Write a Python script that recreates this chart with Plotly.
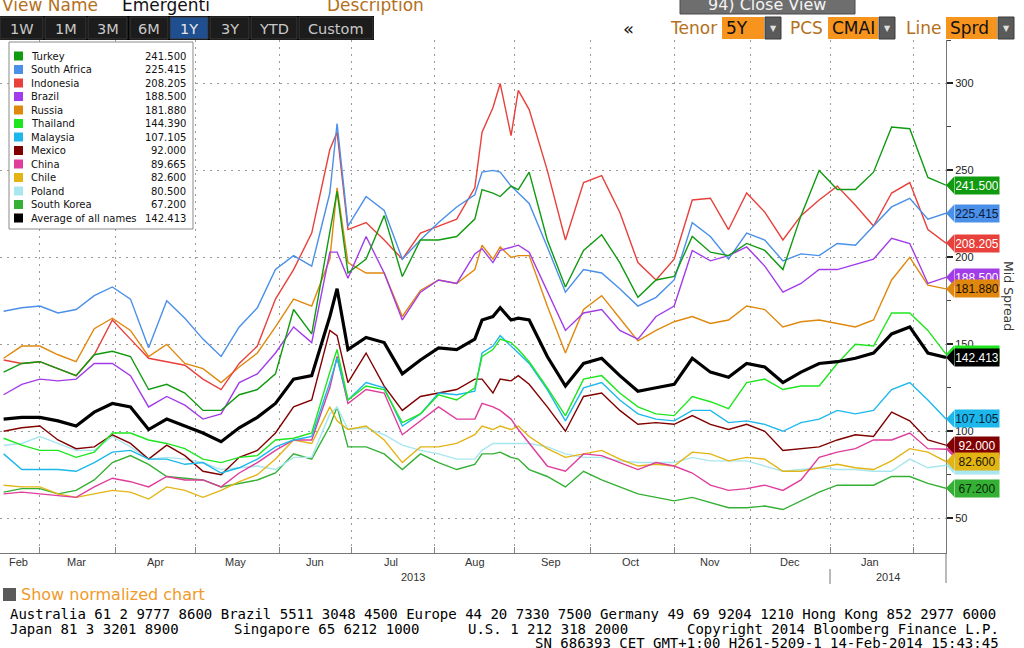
import pandas as pd
import plotly.graph_objects as go

# ---------------- data ----------------
dates = [
    "2013-02-15", "2013-02-22", "2013-03-01", "2013-03-08", "2013-03-15", "2013-03-22", "2013-03-29",
    "2013-04-05", "2013-04-12", "2013-04-19", "2013-04-26", "2013-05-03", "2013-05-10", "2013-05-17",
    "2013-05-24", "2013-05-31", "2013-06-07", "2013-06-14", "2013-06-21", "2013-06-25", "2013-06-28",
    "2013-07-05", "2013-07-12", "2013-07-19", "2013-07-26", "2013-08-02", "2013-08-09", "2013-08-16",
    "2013-08-20", "2013-08-23", "2013-08-27", "2013-08-30", "2013-09-03", "2013-09-06", "2013-09-13",
    "2013-09-20", "2013-09-27", "2013-10-04", "2013-10-11", "2013-10-18", "2013-10-25", "2013-11-01",
    "2013-11-08", "2013-11-15", "2013-11-22", "2013-11-29", "2013-12-06", "2013-12-13", "2013-12-20",
    "2013-12-27", "2014-01-03", "2014-01-10", "2014-01-17", "2014-01-24", "2014-01-31", "2014-02-07",
    "2014-02-14",
]

turkey = [134, 139, 140, 136, 132, 144, 146, 143, 124, 127, 122, 112, 112, 121, 124, 133, 170, 156, 214,
          238, 191, 199, 224, 189, 210, 210, 212, 222, 239, 237, 235, 241, 239, 249, 210, 183, 204, 213,
          197, 177, 187, 189, 212, 203, 201, 208, 204, 193, 224, 250, 239, 239, 249, 275, 274, 246, 241.5]
south_africa = [169, 171, 172, 168, 170, 178, 183, 176, 148, 175, 165, 153, 143, 160, 171, 193, 201, 195, 237,
                277, 218, 235, 227, 199, 210, 220, 229, 236, 249, 250, 249, 241, 237, 231, 206, 180, 193, 191,
                182, 172, 177, 187, 220, 212, 199, 214, 210, 198, 202, 201, 208, 207, 218, 229, 234, 222, 225.415]
indonesia = [141, 139, 140, 136, 132, 144, 164, 153, 142, 140, 138, 130, 124, 139, 149, 176, 193, 214, 262,
             272, 216, 220, 210, 199, 214, 218, 222, 240, 272, 286, 300, 270, 296, 285, 250, 210, 243, 247,
             226, 197, 187, 199, 233, 234, 216, 237, 226, 210, 224, 233, 241, 230, 218, 237, 243, 216, 208.205]
brazil = [121, 127, 130, 129, 130, 139, 139, 132, 114, 120, 115, 107, 110, 128, 133, 145, 160, 151, 203,
          203, 188, 212, 191, 164, 180, 187, 185, 202, 205, 197, 204, 206, 207, 203, 180, 158, 168, 170,
          158, 153, 166, 172, 204, 198, 201, 206, 195, 180, 185, 193, 193, 196, 199, 211, 208, 185, 188.5]
russia = [142, 149, 149, 144, 140, 159, 165, 158, 143, 150, 139, 136, 128, 137, 145, 160, 176, 172, 199,
          240, 197, 191, 191, 166, 181, 187, 185, 193, 207, 199, 206, 200, 201, 201, 172, 145, 170, 178,
          165, 152, 158, 163, 166, 162, 164, 172, 170, 160, 163, 164, 162, 160, 164, 187, 200, 184, 181.88]
thailand = [96, 92, 89, 89, 85, 88, 99, 99, 95, 93, 90, 84, 82, 85, 86, 95, 96, 99, 134,
            147, 118, 126, 124, 105, 110, 121, 118, 125, 143, 147, 153, 151, 147, 140, 125, 109, 130, 132,
            122, 114, 110, 109, 120, 117, 113, 128, 130, 124, 126, 126, 139, 150, 149, 168, 168, 158, 144.39]
malaysia = [87, 78, 78, 78, 77, 82, 88, 89, 84, 84, 81, 82, 76, 79, 84, 91, 95, 97, 128,
            142, 118, 128, 125, 103, 110, 122, 121, 123, 145, 149, 155, 149, 145, 139, 124, 106, 125, 128,
            118, 110, 107, 106, 112, 112, 105, 106, 104, 100, 105, 107, 112, 110, 112, 124, 128, 118, 107.105]
mexico = [100, 102, 103, 95, 90, 91, 98, 93, 84, 92, 86, 77, 75, 85, 89, 99, 114, 118, 158,
          155, 128, 145, 126, 112, 120, 122, 124, 130, 130, 122, 130, 129, 132, 127, 114, 100, 120, 122,
          112, 104, 105, 104, 109, 104, 101, 104, 100, 89, 90, 91, 95, 98, 97, 111, 106, 95, 92.0]
china = [64, 65, 64, 63, 62, 68, 73, 71, 68, 74, 72, 72, 68, 76, 82, 89, 95, 95, 125,
         143, 116, 124, 122, 98, 106, 114, 107, 107, 116, 114, 112, 107, 101, 93, 80, 77, 87, 86,
         82, 78, 82, 80, 76, 69, 66, 67, 69, 66, 72, 85, 88, 90, 95, 95, 99, 90, 89.665]
chile = [69, 68, 68, 64, 62, 64, 66, 65, 61, 68, 66, 62, 66, 71, 75, 84, 95, 93, 114,
         106, 101, 103, 95, 82, 91, 91, 93, 98, 103, 101, 103, 101, 103, 97, 90, 85, 87, 89,
         84, 80, 81, 80, 88, 87, 83, 85, 84, 77, 77, 79, 81, 79, 78, 83, 90, 88, 82.6]
poland = [92, 93, 97, 93, 89, 89, 97, 91, 84, 85, 84, 82, 78, 79, 80, 78, 85, 85, 110,
          114, 101, 102, 98, 92, 89, 87, 84, 84, 89, 93, 93, 93, 93, 93, 91, 87, 85, 85,
          83, 82, 82, 82, 85, 83, 83, 83, 80, 77, 78, 79, 78, 78, 77, 77, 84, 79, 80.5]
south_korea = [65, 67, 67, 64, 66, 72, 82, 86, 81, 74, 73, 72, 68, 70, 72, 76, 87, 84, 103,
               114, 91, 91, 87, 78, 87, 82, 78, 81, 87, 87, 88, 85, 84, 78, 74, 68, 77, 72,
               68, 64, 62, 60, 62, 59, 56, 56, 57, 55, 60, 65, 69, 69, 69, 74, 74, 70, 67.2]
average = [107, 108, 108, 106, 103, 111, 116, 114, 101, 107, 103, 99, 94, 102, 108, 116, 130, 132, 166,
           182, 147, 154, 151, 133, 141, 148, 147, 153, 164, 166, 171, 164, 165, 164, 143, 126, 139, 142,
           132, 123, 125, 127, 142, 134, 131, 139, 137, 128, 134, 139, 140, 142, 145, 156, 160, 145, 142.413]

names = ["Turkey", "South Africa", "Indonesia", "Brazil", "Russia", "Thailand", "Malaysia",
         "Mexico", "China", "Chile", "Poland", "South Korea", "Average of all names"]
values = [turkey, south_africa, indonesia, brazil, russia, thailand, malaysia,
          mexico, china, chile, poland, south_korea, average]

# ---------------- styles ----------------
colors = ["#109a10", "#4a8fe8", "#e8403a", "#a23ce8", "#e0880e", "#1ee61e", "#1cb8ec",
          "#800000", "#e03c9c", "#e2b414", "#a8e6f0", "#34b034", "#000000"]
tag_text = ["#ffffff", "#0a1a3a", "#ffffff", "#ffffff", "#1a1000", "#0a2a0a", "#06223a",
            "#ffffff", "#ffffff", "#1a1400", "#0a2a30", "#082808", "#ffffff"]
tags_under = ["Thailand", "China", "Poland"]
draw_order = ["South Korea", "Poland", "Chile", "China", "Mexico", "Malaysia", "Thailand",
              "Russia", "Brazil", "Indonesia", "South Africa", "Turkey", "Average of all names"]

W, H = 1024, 648
ML, MR, MT, MB = 0, 78, 40, 95
PW, PH = W - ML - MR, H - MT - MB
Y_RANGE = [30, 325]
X_START, X_END = "2013-02-14", "2014-02-14"


def px(x):
    return (x - ML) / PW


def py(y):
    return (H - MB - y) / PH


def vy(v):
    return (v - Y_RANGE[0]) / (Y_RANGE[1] - Y_RANGE[0])


fig = go.Figure()
idx = {n: i for i, n in enumerate(names)}
for n in draw_order:
    i = idx[n]
    fig.add_trace(go.Scatter(
        x=dates, y=values[i], mode="lines", name=n,
        line=dict(color=colors[i], width=3.2 if n.startswith("Average") else 1.4),
        hoverinfo="skip"))

shapes = []
ann = []

# ---- x axis helpers: month boundaries and labels ----
bdays = pd.bdate_range(X_START, X_END)
periods = bdays.to_period("M")
month_list = list(periods.unique())
month_starts = [bdays[periods == m][0] for m in month_list[1:]]
axis_font = dict(family="Liberation Sans Narrow, Liberation Sans, Arial", size=11, color="#333333")
for m in month_list[:-1]:
    days = bdays[periods == m]
    mid = days[len(days) // 2]
    ann.append(dict(x=mid, y=py(562), xref="x", yref="paper", text=mid.strftime("%b"),
                    showarrow=False, font=axis_font, yanchor="middle"))
years = bdays.year
for yv in sorted(set(years)):
    days = bdays[years == yv]
    mid = days[len(days) // 2]
    ann.append(dict(x=mid, y=py(577), xref="x", yref="paper", text=str(yv),
                    showarrow=False, font=axis_font, yanchor="middle"))
    if yv != years[0]:
        shapes.append(dict(type="line", xref="x", yref="paper", x0=days[0], x1=days[0],
                           y0=py(569), y1=py(584), line=dict(color="#777777", width=1)))

# right axis line extension below the plot
shapes.append(dict(type="line", xref="paper", yref="paper", x0=1, x1=1, y0=0, y1=py(583),
                   line=dict(color="#777777", width=1)))

# ---- legend box ----
shapes.append(dict(type="rect", xref="paper", yref="paper", x0=px(9), x1=px(193), y0=py(229), y1=py(42),
                   fillcolor="white", line=dict(color="#8a8a8a", width=1), layer="above"))
leg_font = dict(family="DejaVu Sans", size=10, color="#111111")
for i, n in enumerate(names):
    yc = 56 + i * 13.5
    shapes.append(dict(type="rect", xref="paper", yref="paper", x0=px(14), x1=px(23),
                       y0=py(yc + 4.5), y1=py(yc - 4.5), fillcolor=colors[i], line=dict(width=0), layer="above"))
    ann.append(dict(x=px(29), y=py(yc), xref="paper", yref="paper", text=n, showarrow=False,
                    xanchor="left", yanchor="middle", font=leg_font))
    ann.append(dict(x=px(188), y=py(yc), xref="paper", yref="paper", text=f"{values[i][-1]:.3f}",
                    showarrow=False, xanchor="right", yanchor="middle", font=leg_font))

# ---- value tags on the right ----
half = 8.5 / PH
tip, base = px(946), px(954)
tag_order = [n for n in names if n in tags_under] + [n for n in names if n not in tags_under]
for n in tag_order:
    i = idx[n]
    v = values[i][-1]
    yy = vy(v)
    shapes.append(dict(type="path", xref="paper", yref="paper",
                       path=f"M {tip},{yy} L {base},{yy + half} L {base},{yy - half} Z",
                       fillcolor=colors[i], line=dict(width=0)))
    ann.append(dict(x=base, y=yy, xref="paper", yref="paper", text=f"{v:.3f}", showarrow=False,
                    xanchor="left", yanchor="middle", bgcolor=colors[i], borderpad=1, width=42, height=15,
                    font=dict(family="Liberation Sans", size=12, color=tag_text[i])))

ann.append(dict(x=px(1009), y=py(296), xref="paper", yref="paper", text="Mid Spread", textangle=90,
                xanchor="center", yanchor="middle",
                showarrow=False, font=dict(family="DejaVu Sans", size=12.5, color="#333333")))

# ---- top bar ----
brown = "#b4701c"
top_font = dict(family="DejaVu Sans", size=17, color=brown)
ann.append(dict(x=px(0), y=py(5), xref="paper", yref="paper", text="View Name", showarrow=False,
                xanchor="left", yanchor="middle", font=top_font))
ann.append(dict(x=px(120), y=py(5), xref="paper", yref="paper", text="Emergenti", showarrow=False,
                xanchor="left", yanchor="middle", font=dict(family="DejaVu Sans", size=17, color="#111111")))
ann.append(dict(x=px(325), y=py(5), xref="paper", yref="paper", text="Description", showarrow=False,
                xanchor="left", yanchor="middle", font=top_font))

shapes.append(dict(type="rect", xref="paper", yref="paper", x0=px(0), x1=px(374), y0=py(40), y1=py(16),
                   fillcolor="#050505", line=dict(width=0)))
buttons = [("1W", 0, 43), ("1M", 45, 86), ("3M", 88, 127), ("6M", 130, 168), ("1Y", 170, 208),
           ("3Y", 210, 249), ("YTD", 251, 297), ("Custom", 299, 373)]
for label, a, b in buttons:
    sel = label == "1Y"
    shapes.append(dict(type="rect", xref="paper", yref="paper", x0=px(a), x1=px(b), y0=py(39), y1=py(17),
                       fillcolor="#1f4f8e" if sel else "#1c1c1c", line=dict(color="#3a3a3a", width=1)))
    ann.append(dict(x=px((a + b) / 2), y=py(28.5), xref="paper", yref="paper", text=label, showarrow=False,
                    xanchor="center", yanchor="middle",
                    font=dict(family="DejaVu Sans", size=14.5, color="#e6e6e6" if sel else "#c8c8c8")))

shapes.append(dict(type="rect", xref="paper", yref="paper", x0=px(680), x1=px(855), y0=py(14), y1=py(-4),
                   fillcolor="#6e6e6e", line=dict(color="#4a4a4a", width=1)))
ann.append(dict(x=px(767), y=py(4), xref="paper", yref="paper", text="94) Close View", showarrow=False,
                xanchor="center", yanchor="middle", font=dict(family="DejaVu Sans", size=16, color="#f4f4f4")))

ann.append(dict(x=px(628), y=py(28), xref="paper", yref="paper", text="«", showarrow=False,
                xanchor="center", yanchor="middle", font=dict(family="DejaVu Sans", size=18, color="#111111")))
controls = [("Tenor", 668, "5Y", 722, 764), ("PCS", 788, "CMAI", 828, 878), ("Line", 904, "Sprd", 946, 997)]
for lab, lx, val, a, b in controls:
    ann.append(dict(x=px(lx), y=py(28), xref="paper", yref="paper", text=lab, showarrow=False,
                    xanchor="left", yanchor="middle", font=dict(family="DejaVu Sans", size=17, color=brown)))
    shapes.append(dict(type="rect", xref="paper", yref="paper", x0=px(a), x1=px(b), y0=py(39), y1=py(17),
                       fillcolor="#f7941d", line=dict(width=0)))
    ann.append(dict(x=px(a + 2), y=py(28), xref="paper", yref="paper", text=val, showarrow=False,
                    xanchor="left", yanchor="middle", font=dict(family="DejaVu Sans", size=17, color="#111111")))
    shapes.append(dict(type="rect", xref="paper", yref="paper", x0=px(b + 1), x1=px(b + 17), y0=py(39), y1=py(17),
                       fillcolor="#5a5a5a", line=dict(color="#3a3a3a", width=1)))
    ann.append(dict(x=px(b + 9), y=py(28), xref="paper", yref="paper", text="▼", showarrow=False,
                    xanchor="center", yanchor="middle", font=dict(family="DejaVu Sans", size=8, color="#e0e0e0")))

# ---- bottom ----
shapes.append(dict(type="rect", xref="paper", yref="paper", x0=px(3), x1=px(16), y0=py(601), y1=py(588),
                   fillcolor="#5a5a5a", line=dict(width=0)))
ann.append(dict(x=px(19), y=py(594), xref="paper", yref="paper", text="Show normalized chart", showarrow=False,
                xanchor="left", yanchor="middle", font=dict(family="DejaVu Sans", size=16, color="#ef9a2a")))
foot_font = dict(family="DejaVu Sans Mono", size=14, color="#000000")
footer = [
    ("Australia 61 2 9777 8600 Brazil 5511 3048 4500 Europe 44 20 7330 7500 Germany 49 69 9204 1210 Hong Kong 852 2977 6000",
     8, 614, "left"),
    ("Japan 81 3 3201 8900", 8, 629, "left"),
    ("Singapore 65 6212 1000", 232, 629, "left"),
    ("U.S. 1 212 318 2000", 466, 629, "left"),
    ("Copyright 2014 Bloomberg Finance L.P.", 1001, 629, "right"),
    ("SN 686393 CET GMT+1:00 H261-5209-1 14-Feb-2014 15:43:45", 1001, 643, "right"),
]
for t, fx, fy, anc in footer:
    ann.append(dict(x=px(fx), y=py(fy), xref="paper", yref="paper", text=t, showarrow=False,
                    xanchor=anc, yanchor="middle", font=foot_font))

grid_dash = "2px,5px"
fig.update_layout(
    width=W, height=H,
    margin=dict(l=ML, r=MR, t=MT, b=MB, pad=0),
    paper_bgcolor="white", plot_bgcolor="white",
    showlegend=False,
    xaxis=dict(type="date", range=[X_START, X_END], rangebreaks=[dict(bounds=["sat", "mon"])],
               tickmode="array", tickvals=month_starts, showticklabels=False,
               showgrid=True, gridcolor="#9a9a9a", griddash=grid_dash, gridwidth=1,
               ticks="inside", ticklen=6, tickcolor="#888888",
               showline=True, linecolor="#777777", linewidth=1, zeroline=False, automargin=False),
    yaxis=dict(side="right", range=Y_RANGE, tickmode="linear", tick0=0, dtick=50,
               showgrid=True, gridcolor="#9a9a9a", griddash=grid_dash, gridwidth=1,
               ticks="outside", ticklen=6, tickwidth=2, tickcolor="#222222",
               minor=dict(tick0=0, dtick=25, ticks="outside", ticklen=4, tickwidth=1,
                          tickcolor="#444444", showgrid=False),
               tickfont=dict(family="Liberation Sans", size=11, color="#222222"),
               showline=True, linecolor="#777777", linewidth=1, zeroline=False, automargin=False),
    shapes=shapes,
    annotations=ann,
)

fig.write_html("out.html", config={"displayModeBar": False},
               post_script="document.body.style.margin='0px';document.body.style.overflow='hidden';")
